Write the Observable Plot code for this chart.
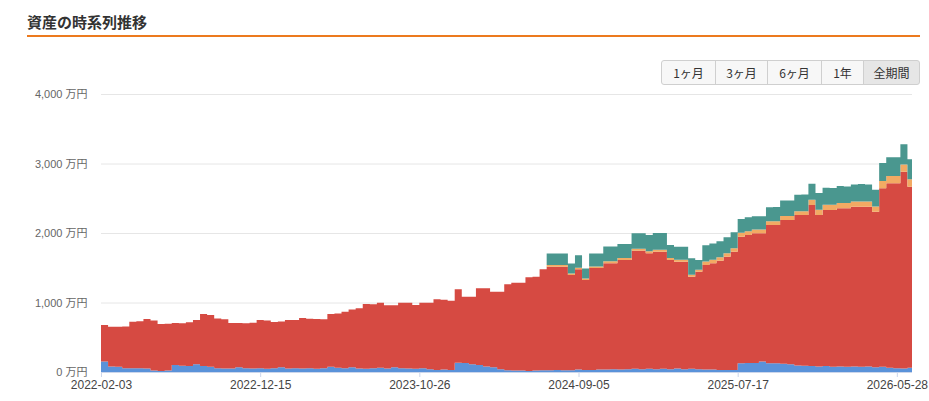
<!DOCTYPE html>
<html>
<head>
<meta charset="utf-8">
<script src="https://cdn.jsdelivr.net/npm/d3@7"></script>
<script src="https://cdn.jsdelivr.net/npm/@observablehq/plot@0.6"></script>
<style>
  html, body { margin: 0; padding: 0; background: #fff; }
  #wrap { width: 929px; height: 401px; position: relative; overflow: hidden; }
  #hdr { position: relative; height: 88px; }
  .title { position: absolute; left: 27px; top: 14px; font: bold 15px/15px "Noto Sans CJK JP", sans-serif; color: #333; }
  .rule { position: absolute; left: 27px; top: 35px; width: 893px; height: 2px; background: #ec7a1e; }
  .btn { position: absolute; top: 60px; height: 25px; box-sizing: border-box; border: 1px solid #cfcfcf;
         background: #f7f7f7; font: 12px/23px "Noto Sans CJK JP", sans-serif; color: #333; text-align: center; }
  .btn.first { border-radius: 3px 0 0 3px; }
  .btn.last { border-radius: 0 3px 3px 0; background: #e6e6e6; }
</style>
</head>
<body>
<div id="wrap">
  <div id="hdr">
    <div class="title">資産の時系列推移</div>
    <div class="rule"></div>
    <div class="btn first" style="left:661px;width:55px">1ヶ月</div>
    <div class="btn" style="left:715px;width:53px">3ヶ月</div>
    <div class="btn" style="left:767px;width:55px">6ヶ月</div>
    <div class="btn" style="left:821px;width:43px">1年</div>
    <div class="btn last" style="left:863px;width:57px">全期間</div>
  </div>
  <div id="chart"></div>
</div>
<script>
const dates = [
"2022-02-03","2022-02-17","2022-03-03","2022-03-17","2022-03-31","2022-04-14","2022-04-28","2022-05-12","2022-05-26","2022-06-09",
"2022-06-23","2022-07-07","2022-07-21","2022-08-04","2022-08-18","2022-09-01","2022-09-15","2022-09-29","2022-10-13","2022-10-27",
"2022-11-10","2022-11-24","2022-12-08","2022-12-22","2023-01-05","2023-01-19","2023-02-02","2023-02-16","2023-03-02","2023-03-16",
"2023-03-30","2023-04-13","2023-04-27","2023-05-11","2023-05-25","2023-06-08","2023-06-22","2023-07-06","2023-07-20","2023-08-03",
"2023-08-17","2023-08-31","2023-09-14","2023-09-28","2023-10-12","2023-10-26","2023-11-09","2023-11-23","2023-12-07","2023-12-21",
"2024-01-04","2024-01-18","2024-02-01","2024-02-15","2024-02-29","2024-03-14","2024-03-28","2024-04-11","2024-04-25","2024-05-09",
"2024-05-23","2024-06-06","2024-06-20","2024-07-04","2024-07-18","2024-08-01","2024-08-15","2024-08-29","2024-09-12","2024-09-26",
"2024-10-10","2024-10-24","2024-11-07","2024-11-21","2024-12-05","2024-12-19","2025-01-02","2025-01-16","2025-01-30","2025-02-13",
"2025-02-27","2025-03-13","2025-03-27","2025-04-10","2025-04-24","2025-05-08","2025-05-22","2025-06-05","2025-06-19","2025-07-03",
"2025-07-17","2025-07-31","2025-08-14","2025-08-28","2025-09-11","2025-09-25","2025-10-09","2025-10-23","2025-11-06","2025-11-20",
"2025-12-04","2025-12-18","2026-01-01","2026-01-15","2026-01-29","2026-02-12","2026-02-26","2026-03-12","2026-03-26","2026-04-09",
"2026-04-23","2026-05-07","2026-05-21","2026-06-04","2026-06-18","2026-06-27"
];

// 万円
const blue = [
150,80,75,55,55,55,50,20,15,20,
100,90,85,110,85,75,55,50,50,70,
55,50,55,45,55,70,50,55,50,55,
45,55,75,60,55,70,50,45,55,60,
50,70,55,50,45,55,40,30,35,30,
134,130,110,100,80,70,40,25,20,20,
15,20,25,25,30,25,25,35,30,30,
35,35,40,35,40,45,40,45,40,45,
40,50,40,45,40,35,35,30,30,30,
125,130,130,150,125,125,120,110,95,90,
85,80,85,75,80,75,80,75,80,70,
75,60,55,50,60,75
];

const red = [
526,570,575,600,669,675,713,720,675,675,
605,610,630,638,750,745,715,710,655,635,
645,660,693,695,665,655,698,695,727,710,
718,705,760,780,813,830,866,933,920,937,
910,890,942,947,919,942,957,1016,1005,996,
1056,954,974,1104,1124,1086,1116,1237,1265,1265,
1347,1352,1455,1491,1486,1491,1371,1443,1294,1466,
1461,1529,1524,1577,1572,1700,1705,1663,1691,1686,
1572,1537,1547,1327,1403,1505,1529,1570,1629,1701,
1822,1840,1865,1845,1990,1990,2068,2078,2164,2169,
2318,2179,2246,2256,2275,2280,2299,2304,2299,2237,
2568,2655,2660,2832,2607,2544
];

const orange = [
0,0,0,0,0,0,0,0,0,0,
0,0,0,0,0,0,0,0,0,0,
0,0,0,0,0,0,0,0,0,0,
0,0,0,0,0,0,0,0,0,0,
0,0,0,0,0,0,0,0,0,0,
0,0,0,0,0,0,0,0,0,0,
0,0,0,22,22,22,22,22,22,22,
22,28,28,28,28,28,28,28,28,28,
28,28,28,28,28,50,50,50,50,50,
55,55,55,55,55,55,55,55,55,55,
75,75,75,75,75,75,75,75,75,75,
105,105,105,105,105,105
];

const teal = [
0,0,0,0,0,0,0,0,0,0,
0,0,0,0,0,0,0,0,0,0,
0,0,0,0,0,0,0,0,0,0,
0,0,0,0,0,0,0,0,0,0,
0,0,0,0,0,0,0,0,0,0,
0,0,0,0,0,0,0,0,0,0,
0,0,0,168,168,168,144,181,144,187,
187,215,215,200,200,225,225,237,240,240,
187,187,187,236,140,235,235,230,230,230,
200,200,190,190,200,205,226,226,235,240,
230,240,245,240,245,240,245,250,245,240,
260,270,270,290,290,290
];

const seriesNames = ["預金", "株式", "投資信託", "その他"];
const seriesColors = ["#5a92d9", "#d64a42", "#f2aa63", "#4a978f"];
const xTickLabels = ["2022-02-03", "2022-12-15", "2023-10-26", "2024-09-05", "2025-07-17", "2026-05-28"];
const yTicks = [0, 1000, 2000, 3000, 4000];
const xDomain = ["2022-02-03", "2026-06-27"];

const parse = d3.utcParse("%Y-%m-%d");
const seriesData = [blue, red, orange, teal];
const rows = [];
dates.forEach((d, i) => {
  seriesData.forEach((arr, k) => rows.push({date: parse(d), series: seriesNames[k], value: arr[i]}));
});

const fontFam = '"Liberation Sans", "Noto Sans CJK JP", sans-serif';
const chart = Plot.plot({
  width: 929,
  height: 313,
  marginTop: 6,
  marginBottom: 29,
  marginLeft: 101,
  marginRight: 17,
  style: {fontFamily: fontFam, fontSize: "11px", background: "#fff", overflow: "visible"},
  x: {type: "utc", domain: xDomain.map(parse), label: null},
  y: {domain: [0, 4000], label: null},
  color: {domain: seriesNames, range: seriesColors},
  marks: [
    Plot.ruleY(yTicks, {stroke: "#e6e6e6", strokeWidth: 1}),
    Plot.areaY(rows, {x: "date", y: "value", fill: "series", order: seriesNames, curve: "step-after"}),
    Plot.ruleY([0], {stroke: "#ccd6eb", strokeWidth: 1}),
    Plot.axisX(xTickLabels.map(parse), {
      tickSize: 5, tickPadding: 3, stroke: "#ccd6eb", fill: "#444", fontSize: 12,
      tickFormat: d3.utcFormat("%Y-%m-%d")
    }),
    Plot.axisY(yTicks, {
      tickSize: 0, tickPadding: 14, fill: "#666", fontSize: 11,
      tickFormat: d => d3.format(",")(d) + " 万円"
    })
  ]
});
document.getElementById("chart").appendChild(chart);
</script>
</body>
</html>
